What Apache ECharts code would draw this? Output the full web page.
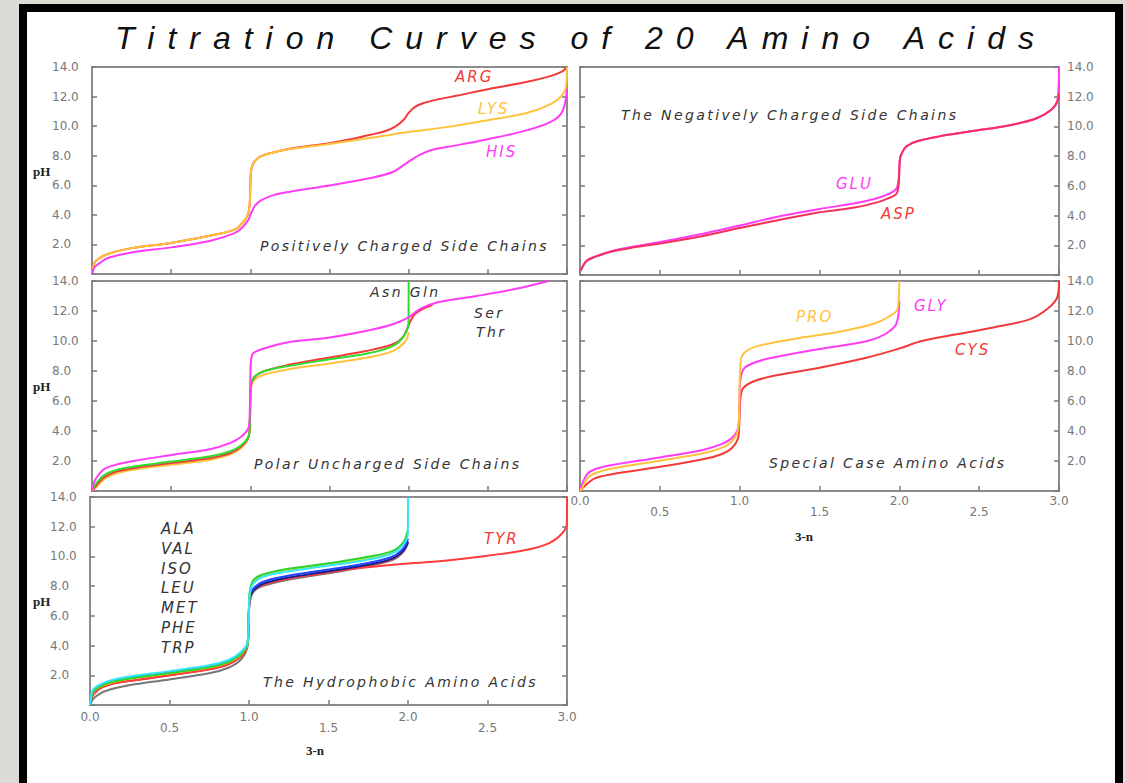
<!DOCTYPE html>
<html><head><meta charset="utf-8">
<script src="https://cdn.jsdelivr.net/npm/echarts@6/dist/echarts.min.js"></script>
<style>
html,body{margin:0;padding:0;width:1126px;height:783px;overflow:hidden;background:#dcdcd7;}
#frame{position:absolute;left:19px;top:4px;width:1104px;height:800px;background:#000;}
#paper{position:absolute;left:27px;top:12px;width:1088px;height:800px;background:#fff;}
#chart{position:absolute;left:0;top:0;width:1126px;height:783px;}
#chart svg text[style*="32px"]{letter-spacing:13px;}
#chart svg text[style*="14px"]{letter-spacing:2.4px;}
#chart svg text[style*="15px"]{letter-spacing:2px;}
</style></head>
<body>
<div id="frame"></div><div id="paper"></div><div id="chart"></div>
<script>
// ---------- data (x = 3-n, y = pH) ----------
const X_TICKS = [0, 0.5, 1, 1.5, 2, 2.5, 3];
const Y_TICKS = [2, 4, 6, 8, 10, 12, 14];

// Panel 1: positively charged side chains
const ARG = [[0,0],[0.01,0.6],[0.03,0.95],[0.1,1.35],[0.25,1.75],[0.5,2.1],[0.75,2.6],[0.9,3.0],[0.95,3.45],[0.98,3.9],[0.995,4.6],[1.0,6.0],[1.005,7.0],[1.02,7.5],[1.056,7.9],[1.1,8.1],[1.25,8.47],[1.5,8.85],[1.65,9.15],[1.75,9.4],[1.85,9.65],[1.92,10.0],[1.97,10.45],[2.0,10.9],[2.04,11.3],[2.09,11.55],[2.18,11.8],[2.3,12.05],[2.5,12.5],[2.75,13.0],[2.9,13.4],[2.97,13.7],[3.0,14]];
const LYS = [[0,0],[0.01,0.6],[0.03,0.95],[0.1,1.35],[0.25,1.75],[0.5,2.1],[0.75,2.6],[0.9,3.0],[0.95,3.45],[0.98,3.9],[0.995,4.6],[1.0,6.0],[1.005,7.0],[1.02,7.5],[1.056,7.9],[1.1,8.1],[1.25,8.45],[1.5,8.8],[1.75,9.2],[2.0,9.6],[2.25,9.95],[2.5,10.4],[2.75,10.9],[2.9,11.5],[2.97,12.1],[2.995,12.7],[3.0,14]];
const HIS = [[0,0],[0.015,0.45],[0.048,0.74],[0.1,1.08],[0.25,1.46],[0.5,1.8],[0.75,2.25],[0.9,2.76],[0.95,3.15],[0.99,3.7],[1.0,4.0],[1.03,4.63],[1.07,5.0],[1.15,5.35],[1.25,5.57],[1.5,5.98],[1.75,6.47],[1.9,6.9],[2.0,7.6],[2.07,8.05],[2.15,8.4],[2.25,8.6],[2.5,9.12],[2.75,9.73],[2.9,10.3],[2.97,10.97],[3.0,12.5]];

// Panel 2: negatively charged side chains
const GLU = [[0.005,0.3],[0.04,0.95],[0.09,1.22],[0.2,1.62],[0.32,1.89],[0.5,2.22],[0.77,2.78],[1.0,3.33],[1.23,3.9],[1.5,4.44],[1.73,4.84],[1.86,5.16],[1.93,5.44],[1.98,5.78],[1.995,6.4],[2.0,7.2],[2.005,7.9],[2.02,8.3],[2.045,8.67],[2.11,9.0],[2.25,9.33],[2.45,9.67],[2.7,10.1],[2.86,10.55],[2.95,11.1],[2.99,11.7],[3.0,14]];
const ASP = [[0.005,0.3],[0.04,0.93],[0.09,1.2],[0.2,1.58],[0.32,1.83],[0.5,2.12],[0.77,2.62],[1.0,3.16],[1.23,3.67],[1.5,4.22],[1.73,4.56],[1.86,4.89],[1.93,5.16],[1.98,5.44],[1.995,6.0],[2.0,7.0],[2.005,7.85],[2.02,8.3],[2.045,8.67],[2.11,9.0],[2.25,9.33],[2.45,9.67],[2.7,10.1],[2.86,10.55],[2.95,11.1],[2.99,11.7],[3.0,12.2]];

// Panel 3: polar uncharged side chains
const ASN = [[0,0],[0.01,0.5],[0.029,0.9],[0.077,1.46],[0.15,1.75],[0.27,2.02],[0.5,2.4],[0.75,2.8],[0.87,3.19],[0.94,3.6],[0.99,4.27],[0.997,5.5],[1.0,7.5],[1.005,8.76],[1.02,9.2],[1.085,9.5],[1.23,9.9],[1.49,10.22],[1.73,10.67],[1.9,11.12],[2.0,11.57],[2.07,12.13],[2.19,12.6],[2.43,13.0],[2.67,13.46],[2.885,14.0]];
const GLN = [[0,0],[0.01,0.25],[0.029,0.55],[0.077,1.06],[0.15,1.39],[0.27,1.64],[0.5,1.96],[0.75,2.31],[0.87,2.63],[0.94,3.03],[0.99,3.7],[0.997,4.6],[1.0,6.0],[1.005,7.2],[1.027,7.64],[1.085,7.98],[1.23,8.31],[1.49,8.76],[1.73,9.15],[1.9,9.66],[1.97,10.34],[1.999,11.24],[2.0,14]];
const SER = [[0,0],[0.029,0.4],[0.077,0.92],[0.15,1.28],[0.27,1.54],[0.5,1.86],[0.75,2.2],[0.87,2.52],[0.94,2.93],[0.99,3.65],[0.997,4.5],[1.0,6.0],[1.005,7.1],[1.027,7.6],[1.085,7.98],[1.23,8.38],[1.49,8.88],[1.73,9.33],[1.9,9.78],[1.96,10.2],[1.99,10.8],[2.01,11.3],[2.04,11.8],[2.09,12.15],[2.15,12.4]];
const THR = [[0,0],[0.029,0.27],[0.077,0.79],[0.15,1.17],[0.27,1.44],[0.5,1.75],[0.75,2.09],[0.87,2.43],[0.94,2.85],[0.99,3.6],[0.997,4.4],[1.0,5.8],[1.005,6.97],[1.027,7.42],[1.085,7.75],[1.23,8.09],[1.49,8.49],[1.73,8.88],[1.9,9.33],[1.98,10.0],[2.0,10.6]];

// Panel 4: special cases
const PRO = [[0,0],[0.011,0.16],[0.045,0.83],[0.09,1.17],[0.2,1.5],[0.5,2.02],[0.77,2.51],[0.89,2.89],[0.95,3.3],[0.99,4.08],[0.997,5.5],[1.0,7.2],[1.005,8.46],[1.01,8.9],[1.045,9.36],[1.14,9.74],[1.34,10.14],[1.5,10.4],[1.68,10.74],[1.84,11.15],[1.93,11.6],[1.99,12.16],[2.0,14]];
const GLY = [[0,0],[0.011,0.4],[0.045,1.12],[0.09,1.43],[0.2,1.73],[0.5,2.24],[0.77,2.74],[0.89,3.14],[0.95,3.52],[0.99,4.19],[0.997,5.3],[1.0,6.5],[1.005,7.44],[1.023,8.1],[1.068,8.45],[1.18,8.83],[1.5,9.46],[1.8,10.0],[1.91,10.45],[1.98,11.12],[2.0,12.7]];
const CYS = [[0,0],[0.023,0.27],[0.09,0.83],[0.2,1.12],[0.5,1.61],[0.77,2.11],[0.89,2.47],[0.95,2.85],[0.99,3.52],[0.997,4.3],[1.0,5.2],[1.005,6.2],[1.023,6.87],[1.09,7.32],[1.23,7.71],[1.5,8.22],[1.8,8.9],[2.0,9.5],[2.14,10.0],[2.36,10.45],[2.59,10.9],[2.82,11.46],[2.93,12.16],[2.99,12.94],[3.0,14]];

// Panel 5: hydrophobic
const ALA = [[0,0],[0.017,0.36],[0.053,0.7],[0.125,1.04],[0.27,1.38],[0.5,1.72],[0.75,2.13],[0.87,2.51],[0.94,2.96],[0.986,3.76],[0.997,5.0],[1.0,6.2],[1.005,6.92],[1.027,7.6],[1.085,8.0],[1.23,8.4],[1.49,8.85],[1.73,9.3],[1.9,9.75],[1.97,10.3],[2.0,10.9]];
const VAL = [[0,0],[0.01,0.5],[0.053,1.04],[0.125,1.38],[0.27,1.65],[0.5,2.0],[0.75,2.4],[0.87,2.74],[0.94,3.19],[0.99,3.98],[0.997,5.2],[1.0,6.4],[1.005,7.15],[1.027,7.72],[1.085,8.08],[1.23,8.47],[1.49,8.9],[1.73,9.35],[1.9,9.8],[1.97,10.35],[2.0,11.0]];
const TYR = [[0,0],[0.01,0.5],[0.053,1.04],[0.125,1.38],[0.27,1.65],[0.5,2.0],[0.75,2.4],[0.87,2.74],[0.94,3.19],[0.99,3.98],[0.997,5.2],[1.0,6.4],[1.005,7.15],[1.027,7.72],[1.085,8.1],[1.23,8.5],[1.49,8.95],[1.73,9.25],[2.0,9.52],[2.26,9.75],[2.5,10.05],[2.74,10.43],[2.885,10.88],[2.97,11.56],[2.999,12.24],[3.0,14]];
const ISO = [[0,0],[0.012,0.78],[0.029,1.02],[0.077,1.33],[0.15,1.6],[0.27,1.84],[0.5,2.17],[0.75,2.55],[0.87,2.9],[0.94,3.35],[0.99,4.08],[0.997,5.4],[1.0,6.5],[1.005,7.25],[1.027,7.7],[1.085,8.15],[1.23,8.55],[1.49,8.98],[1.73,9.4],[1.9,9.85],[1.97,10.4],[2.0,11.0]];
const LEU = [[0,0],[0.012,0.82],[0.029,1.07],[0.077,1.38],[0.15,1.65],[0.27,1.88],[0.5,2.21],[0.75,2.6],[0.87,2.95],[0.94,3.4],[0.99,4.12],[0.997,5.4],[1.0,6.5],[1.005,7.35],[1.027,7.83],[1.085,8.28],[1.23,8.66],[1.49,9.1],[1.73,9.52],[1.9,9.98],[1.97,10.54],[2.0,11.2]];
const MET = [[0,0],[0.012,0.72],[0.029,0.98],[0.077,1.3],[0.15,1.57],[0.27,1.8],[0.5,2.13],[0.75,2.52],[0.87,2.87],[0.94,3.32],[0.99,4.05],[0.997,5.4],[1.0,6.6],[1.005,7.55],[1.027,8.3],[1.085,8.7],[1.23,9.05],[1.49,9.45],[1.73,9.85],[1.9,10.28],[1.97,10.85],[2.0,11.7]];
const PHE = [[0,0],[0.012,0.75],[0.029,1.0],[0.077,1.32],[0.15,1.59],[0.27,1.82],[0.5,2.15],[0.75,2.54],[0.87,2.89],[0.94,3.34],[0.99,4.06],[0.997,5.4],[1.0,6.7],[1.005,7.65],[1.027,8.39],[1.085,8.78],[1.23,9.14],[1.49,9.52],[1.73,9.95],[1.9,10.36],[1.97,10.95],[2.0,11.8]];
const TRP = [[0,0],[0.012,0.9],[0.029,1.15],[0.077,1.45],[0.15,1.72],[0.27,1.95],[0.5,2.28],[0.75,2.67],[0.87,3.03],[0.94,3.48],[0.99,4.2],[0.997,5.5],[1.0,6.6],[1.005,7.5],[1.027,8.17],[1.085,8.62],[1.23,8.96],[1.49,9.37],[1.73,9.75],[1.9,10.2],[1.97,10.77],[1.999,11.56],[2.0,14]];

const PANEL_LABELS = ['Positively Charged Side Chains','The Negatively Charged Side Chains','Polar Uncharged Side Chains','Special Case Amino Acids','The Hydrophobic Amino Acids'];
const HYDRO_NAMES = ['ALA','VAL','ISO','LEU','MET','PHE','TRP'];

// ---------- chart ----------
const RED='#f23a3a', ORANGE='#ffc23c', MAGENTA='#ff3cf5', GREEN='#2fdc2f';
const grids = [
  {left:92, top:67, width:475, height:207},
  {left:580, top:67, width:479, height:208},
  {left:92, top:281, width:475, height:210},
  {left:580, top:281, width:479, height:210},
  {left:90, top:497, width:477, height:208}
].map(g => Object.assign(g, {show:true, borderColor:'#8c8c8c', borderWidth:2, backgroundColor:'transparent', containLabel:false}));

const tickStyle = {inside:true, length:5, lineStyle:{color:'#7a7a7a', width:1.5}};
const labelFont = {color:'#777', fontFamily:'DejaVu Sans', fontSize:12};
const leftPanel = [true,false,true,false,true];
const xLabelled = [false,false,false,true,true];

const xAxis = grids.map((g,i)=>({
  gridIndex:i, type:'value', min:X_TICKS[0], max:X_TICKS[X_TICKS.length-1], interval:0.5,
  axisLine:{show:false}, splitLine:{show:false}, axisTick:tickStyle,
  axisLabel: Object.assign({show:xLabelled[i], margin: i===3?4:6, lineHeight:11,
    formatter:(v,idx)=> (idx%2 ? '\n' : '') + v.toFixed(1)}, labelFont)
}));
const yAxis = [];
grids.forEach((g,i)=>{
  ['left','right'].forEach(pos=>{
    const show = (pos==='left') === leftPanel[i];
    yAxis.push({gridIndex:i, type:'value', position:pos, min:0, max:Y_TICKS[Y_TICKS.length-1], interval:2,
      axisLine:{show:false}, splitLine:{show:false}, axisTick:tickStyle,
      axisLabel: Object.assign({show:show, align:'left', margin: pos==='left'?40:8,
        formatter:v=> v===0 ? '' : v.toFixed(1)}, labelFont)});
  });
});

function line(name, data, color, gi){
  return {name, type:'line', data, xAxisIndex:gi, yAxisIndex:gi*2, showSymbol:false, symbol:'none',
    smooth:0.35, lineStyle:{color, width:2}, itemStyle:{color}, silent:true, animation:false, clip:true};
}
const series = [
  line('ARG', ARG, RED, 0), line('LYS', LYS, ORANGE, 0), line('HIS', HIS, MAGENTA, 0),
  line('GLU', GLU, MAGENTA, 1), line('ASP', ASP, '#f5305a', 1),
  line('Thr', THR, ORANGE, 2), line('Ser', SER, RED, 2), line('Gln', GLN, GREEN, 2), line('Asn', ASN, MAGENTA, 2),
  line('CYS', CYS, RED, 3), line('GLY', GLY, MAGENTA, 3), line('PRO', PRO, ORANGE, 3),
  line('ALA', ALA, '#777777', 4), line('VAL', VAL, '#f04040', 4), line('TYR', TYR, '#ff3b3b', 4),
  line('ISO', ISO, '#15208a', 4), line('LEU', LEU, '#2244ff', 4), line('MET', MET, '#e6e21e', 4),
  line('PHE', PHE, '#2fd22f', 4), line('TRP', TRP, '#2fe6ff', 4)
];

function txt(s, x, y, size, color, family, style, weight){
  return {type:'text', x:x, y:y, silent:true, z:10,
    style:{text:s, fill:color, fontSize:size, fontFamily:family||'DejaVu Sans', fontStyle:style||'italic',
      fontWeight:weight||'normal', align:'left', verticalAlign:'middle', textAlign:'left', textVerticalAlign:'middle'}};
}
const DARK='#333';
const graphic = [
  txt('Titration Curves of 20 Amino Acids', 115, 38, 32, '#111', 'Liberation Sans'),
  txt('ARG', 455, 77, 15, RED), txt('LYS', 478, 109, 15, ORANGE), txt('HIS', 486, 152, 15, MAGENTA),
  txt(PANEL_LABELS[0], 260, 246, 14, DARK),
  txt(PANEL_LABELS[1], 621, 115, 14, DARK),
  txt('GLU', 836, 184, 15, MAGENTA), txt('ASP', 881, 214, 15, RED),
  txt('Asn Gln', 370, 292, 14, DARK), txt('Ser', 474, 313, 14, DARK), txt('Thr', 476, 332, 14, DARK),
  txt(PANEL_LABELS[2], 254, 464, 14, DARK),
  txt('PRO', 796, 317, 15, ORANGE), txt('GLY', 914, 306, 15, MAGENTA), txt('CYS', 955, 350, 15, RED),
  txt(PANEL_LABELS[3], 769, 463, 14, DARK),
  txt('TYR', 484, 539, 15, RED),
  txt(PANEL_LABELS[4], 263, 682, 14, DARK),
  txt('pH', 33, 171, 13, '#222', 'Liberation Serif', 'normal', 'bold'),
  txt('pH', 33, 386, 13, '#222', 'Liberation Serif', 'normal', 'bold'),
  txt('pH', 33, 601, 13, '#222', 'Liberation Serif', 'normal', 'bold'),
  txt('3-n', 306, 750, 13, '#222', 'Liberation Serif', 'normal', 'bold'),
  txt('3-n', 795, 536, 13, '#222', 'Liberation Serif', 'normal', 'bold')
];
HYDRO_NAMES.forEach((n,i)=> graphic.push(txt(n, 161, 529 + i*19.8, 15, DARK)));

const chart = echarts.init(document.getElementById('chart'), null, {renderer:'svg', width:1126, height:783});
chart.setOption({animation:false, backgroundColor:'transparent', grid:grids, xAxis, yAxis, series, graphic});
</script>
</body></html>
